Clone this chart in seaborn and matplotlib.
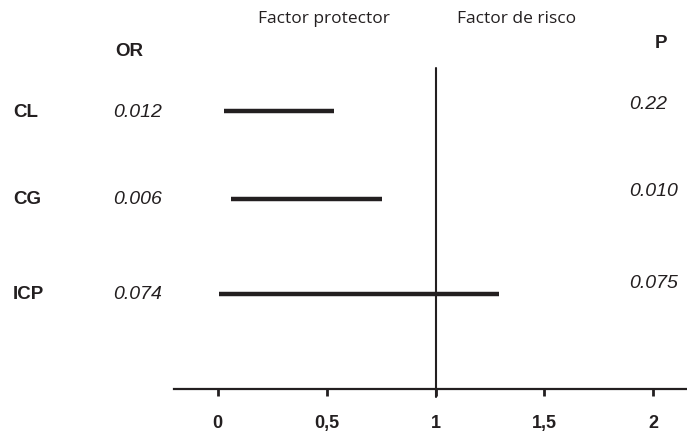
import matplotlib
matplotlib.use("Agg")
import matplotlib.pyplot as plt
import seaborn as sns
import pandas as pd

# ---- data ----
groups = ["CL", "CG", "ICP"]
or_values = ["0.012", "0.006", "0.074"]
p_values = ["0.22", "0.010", "0.075"]
ci_low = [0.03, 0.06, 0.007]
ci_high = [0.535, 0.755, 1.29]
row_pos = [2.91, 1.99, 1.0]
tick_values = [0, 0.5, 1, 1.5, 2]
tick_labels = ["0", "0,5", "1", "1,5", "2"]
ref_value = 1

sns.set_style("white")
plt.rcParams["font.family"] = ["Liberation Sans", "DejaVu Sans"]

INK = "#231f20"
W, H = 687, 439
AX_L, AX_R, AX_B, AX_T = 174, 687, 390, 69
fig = plt.figure(figsize=(W / 100, H / 100), dpi=100)
ax = fig.add_axes([AX_L / W, (H - AX_B) / H, (AX_R - AX_L) / W, (AX_B - AX_T) / H])

rows = []
for g, lo, hi, y in zip(groups, ci_low, ci_high, row_pos):
    rows.append({"group": g, "x": lo, "y": y})
    rows.append({"group": g, "x": hi, "y": y})
df = pd.DataFrame(rows)

sns.lineplot(data=df, x="x", y="y", units="group", estimator=None,
             color=INK, lw=3.2, ax=ax, legend=False, sort=False,
             solid_capstyle="butt")
ax.axvline(ref_value, ymin=-8 / (AX_B - AX_T), ymax=1, color=INK, lw=1.5,
           zorder=1, clip_on=False)

ax.set_xlim(-0.2, 2.154)
ax.set_ylim(0, (AX_B - AX_T) / 95.5)
ax.set_xticks(tick_values)
ax.set_xticklabels(tick_labels, fontfamily=["Liberation Sans", "DejaVu Sans"],
                   fontweight="bold", fontsize=13, color=INK)
ax.tick_params(axis="x", direction="out", length=5, width=2, color=INK, pad=13, bottom=True)
ax.set_yticks([])
ax.set_xlabel("")
ax.set_ylabel("")
for s in ["top", "right", "left"]:
    ax.spines[s].set_visible(False)
ax.spines["bottom"].set_color(INK)
ax.spines["bottom"].set_linewidth(1.6)


def fx(px):
    return px / W


def fy(py):
    return 1 - py / H


label_y = [112.5, 200, 294.5]
p_y = [104.5, 192, 284]
for g, orv, pv, ly, py in zip(groups, or_values, p_values, label_y, p_y):
    fig.text(fx(13), fy(ly), g, ha="left", va="center", fontsize=13.5, fontweight="bold", color=INK)
    fig.text(fx(113), fy(ly), orv, ha="left", va="center", fontsize=14, style="italic", color=INK)
    fig.text(fx(629), fy(py), pv, ha="left", va="center", fontsize=14, style="italic", color=INK)

fig.text(fx(129), fy(52), "OR", ha="center", va="center", fontsize=13.5, fontweight="bold", color=INK)
fig.text(fx(661), fy(43.5), "P", ha="center", va="center", fontsize=13.5, fontweight="bold", color=INK)
fig.text(fx(324), fy(19), "Factor protector", ha="center", va="center", fontsize=12.5,
         fontfamily=["Open Sans", "DejaVu Sans"], color=INK)
fig.text(fx(517), fy(19), "Factor de risco", ha="center", va="center", fontsize=12.5,
         fontfamily=["Open Sans", "DejaVu Sans"], color=INK)

fig.savefig("out.png", dpi=100)
